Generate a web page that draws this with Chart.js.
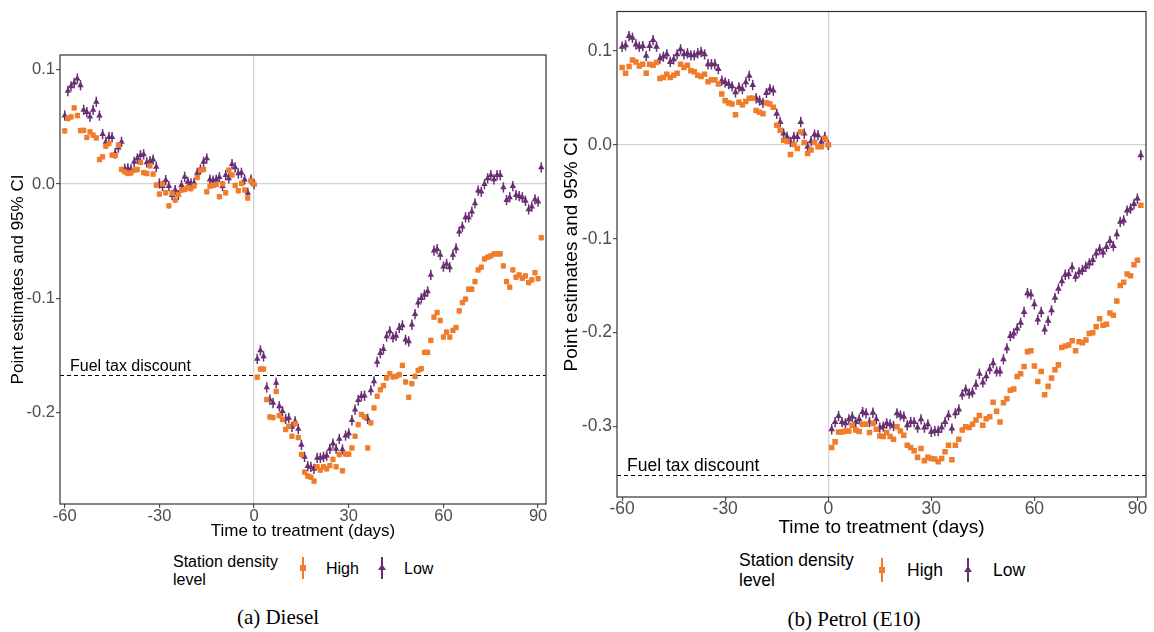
<!DOCTYPE html>
<html>
<head>
<meta charset="utf-8">
<script src="https://cdn.jsdelivr.net/npm/chart.js@4.4.0/dist/chart.umd.min.js"></script>
<style>
  body { margin: 0; background: #fff; width: 1154px; height: 632px; position: relative; overflow: hidden;
         font-family: "Liberation Sans", Arial, sans-serif; }
  .wrap { position: absolute; top: 0; }
  #wrapA { left: 0; }
  #wrapB { left: 560px; }
  .lg { position: absolute; color: #000; white-space: nowrap; }
  .key { position: absolute; width: 2px; }
  .key .sq { position: absolute; left: -2px; width: 6px; height: 6px; }
  .key .tri { position: absolute; left: -3px; width: 0; height: 0;
              border-left: 4px solid transparent; border-right: 4px solid transparent; }
  .caption { position: absolute; font-family: "Liberation Serif", "DejaVu Serif", serif; font-size: 21px;
             color: #000; transform: translateX(-50%); white-space: nowrap; }
</style>
</head>
<body>
<div class="wrap" id="wrapA"><canvas id="diesel" width="560" height="542"></canvas></div>
<div class="wrap" id="wrapB"><canvas id="petrol" width="594" height="539"></canvas></div>
<div id="legendA"></div>
<div id="legendB"></div>
<div class="caption" style="left:278px;top:605px">(a) Diesel</div>
<div class="caption" style="left:854px;top:607px">(b) Petrol (E10)</div>
<script>
// days relative to treatment, -60 .. 91 (day 0 is the reference, fixed at 0)
const days = [];
for (let d = -60; d <= 91; d++) days.push(d);

const seriesNames = ["High", "Low"];
const xTicks = [-60, -30, 0, 30, 60, 90];
const dieselYTicks = [0.1, 0.0, -0.1, -0.2];
const petrolYTicks = [0.1, 0.0, -0.1, -0.2, -0.3];
const dieselDiscount = -0.167;
const petrolDiscount = -0.352;

// Diesel, days -60..0
const dieselHighPre = [0.0466, 0.0574, 0.0588, 0.0667, 0.060, 0.0469, 0.047, 0.0408, 0.0457, 0.0428,
  0.0404, 0.0215, 0.0239, 0.0332, 0.0355, 0.0253, 0.025, 0.034, 0.0128, 0.0108,
  0.0093, 0.0099, 0.0122, 0.0128, 0.019, 0.010, 0.0093, 0.016, 0.0087, -0.0009,
  -0.0087, 0.0, -0.0076, -0.019, -0.008, -0.014, -0.009, -0.0052, -0.0047, -0.003,
  -0.004, -0.0017, 0.0058, 0.0122, 0.0128, -0.0067, -0.0017, -0.0012, -0.0003, -0.011,
  0.0, -0.0076, 0.0122, 0.008, -0.0012, -0.0058, 0.0006, -0.0052, -0.0122, 0.003, 0];
const dieselLowPre = [0.060, 0.0815, 0.0856, 0.0885, 0.0923, 0.0865, 0.065, 0.063, 0.059, 0.065,
  0.072, 0.060, 0.0437, 0.037, 0.041, 0.041, 0.027, 0.032, 0.037, 0.0134,
  0.0137, 0.0128, 0.0195, 0.0224, 0.0253, 0.026, 0.019, 0.020, 0.0215, 0.015,
  0.0006, -0.0017, 0.0035, -0.0017, -0.0096, -0.0052, -0.0096, -0.0009, 0.0064, 0.002,
  0.0006, 0.001, 0.0099, 0.0128, 0.0195, 0.0224, 0.004, 0.003, 0.004, 0.006,
  -0.0017, 0.0079, 0.005, 0.0175, 0.0146, 0.0093, 0.0099, 0.004, -0.0076, 0.004, 0];
// Diesel, days 1..91
const dieselHighPost = [-0.169, -0.1619, -0.1619, -0.1886, -0.2038, -0.2044, -0.1814, -0.2026, -0.2061, -0.2148,
  -0.212, -0.2207, -0.2096, -0.2218, -0.2367, -0.2521, -0.2556, -0.2565, -0.26, -0.2474,
  -0.2504, -0.2474, -0.2492, -0.2463, -0.241, -0.2474, -0.2367, -0.2509, -0.2364, -0.2364,
  -0.2309, -0.2207, -0.2105, -0.2017, -0.2038, -0.2309, -0.209, -0.1959, -0.1857,
  -0.18, -0.1764, -0.1697, -0.1659, -0.1688, -0.1683, -0.1668, -0.1587, -0.1732, -0.1866,
  -0.1747, -0.1683, -0.163, -0.1616, -0.1473, -0.1473, -0.1368, -0.1165, -0.1124, -0.1194,
  -0.1339, -0.1295, -0.1339, -0.1281, -0.1255, -0.1109, -0.1037, -0.1007, -0.092, -0.092,
  -0.0853, -0.0751, -0.0728, -0.0655, -0.064, -0.0629, -0.0611, -0.0611, -0.0611, -0.0716,
  -0.0853, -0.0902, -0.0751, -0.0815, -0.0795, -0.0824, -0.0803, -0.0862, -0.0838, -0.0775, -0.0827, -0.0469];
const dieselLowPost = [-0.153, -0.1456, -0.1508, -0.178, -0.1886, -0.1916, -0.174, -0.1945, -0.1988, -0.2055,
  -0.2047, -0.2125, -0.2076, -0.2143, -0.2282, -0.2387, -0.2469, -0.2475, -0.2492, -0.2396,
  -0.2396, -0.2387, -0.2376, -0.2317, -0.2271, -0.2317, -0.223, -0.2323, -0.2201, -0.2183,
  -0.2067, -0.1974, -0.1892, -0.1857, -0.1852, -0.2055, -0.1805, -0.1726, -0.1557,
  -0.148, -0.1444, -0.1333, -0.129, -0.1342, -0.1328, -0.126, -0.1237, -0.1362, -0.1377,
  -0.1231, -0.1138, -0.1037, -0.0998, -0.0969, -0.094, -0.0795, -0.0582, -0.057, -0.062,
  -0.0722, -0.0699, -0.0728, -0.062, -0.0562, -0.0416, -0.0373, -0.0291, -0.0291, -0.0242,
  -0.0169, -0.0058, -0.0067, 0.0, 0.005, 0.0079, 0.0041, 0.0079, 0.0079, -0.0029,
  -0.014, -0.0116, -0.0017, -0.0096, -0.0105, -0.0116, -0.0146, -0.0221, -0.0198, -0.0134, -0.0154, 0.0146];

// Petrol (E10), days -60..0
const petrolHighPre = [0.0823, 0.0763, 0.0834, 0.0904, 0.0883, 0.0841, 0.0858, 0.0763, 0.0858, 0.0848,
  0.0876, 0.0707, 0.0718, 0.0753, 0.0718, 0.0742, 0.0763, 0.0858, 0.0823, 0.0848,
  0.0788, 0.0778, 0.0742, 0.0728, 0.0753, 0.0672, 0.0693, 0.0693, 0.0647, 0.0542,
  0.0471, 0.0447, 0.0436, 0.032, 0.0454, 0.0426, 0.0461, 0.0496, 0.0496, 0.0366,
  0.0348, 0.0331, 0.0447, 0.0436, 0.0401, 0.0208, 0.0155, 0.005, 0.0039, -0.0102,
  0.0004, -0.0039, 0.0137, 0.0025, -0.0091, -0.0056, 0.0025, -0.0021, -0.0021, 0.0067, 0];
const petrolLowPre = [0.1045, 0.1059, 0.1158, 0.114, 0.1069, 0.1045, 0.1052, 0.0947, 0.1052, 0.1115,
  0.1045, 0.0918, 0.0939, 0.0964, 0.0883, 0.0911, 0.0964, 0.1017, 0.0964, 0.0975,
  0.0953, 0.0953, 0.0975, 0.0989, 0.0964, 0.0858, 0.0858, 0.0858, 0.0806, 0.0683,
  0.0665, 0.0647, 0.0623, 0.0559, 0.0612, 0.0594, 0.0665, 0.0735, 0.0637, 0.0496,
  0.0471, 0.0447, 0.0552, 0.0594, 0.0577, 0.0331, 0.0243, 0.012, 0.0084, 0.0032,
  0.0084, 0.0084, 0.0243, 0.012, -0.0021, 0.0039, 0.0109, 0.0102, 0.0032, 0.0084, 0];
// Petrol (E10), days 1..91
const petrolHighPost = [-0.3222, -0.3163, -0.3057, -0.3057, -0.305, -0.3047, -0.2987, -0.3036, -0.3053, -0.2976,
  -0.2976, -0.3064, -0.2966, -0.3029, -0.31, -0.3106, -0.3064, -0.3106, -0.3135, -0.3001,
  -0.3047, -0.3092, -0.3198, -0.3222, -0.3258, -0.3328, -0.3233, -0.3363, -0.3328, -0.3339,
  -0.3346, -0.3374, -0.3339, -0.3268, -0.3198, -0.3353, -0.3198, -0.3135,
  -0.3036, -0.3001, -0.3011, -0.2976, -0.2931, -0.2881, -0.2987, -0.2916, -0.2895, -0.2741,
  -0.2836, -0.2952, -0.2747, -0.2705, -0.2614, -0.26, -0.2466, -0.2438, -0.2361, -0.2202,
  -0.2192, -0.2354, -0.2519, -0.2413, -0.266, -0.2572, -0.2484, -0.2396, -0.2343, -0.2157,
  -0.2142, -0.2132, -0.2087, -0.2192, -0.2097, -0.2107, -0.2079, -0.2009, -0.2002, -0.1938,
  -0.1851, -0.1921, -0.191, -0.1791, -0.1815, -0.1664, -0.1499, -0.1464, -0.1376, -0.1393, -0.1277, -0.1228, -0.0644];
const petrolLowPost = [-0.3029, -0.2952, -0.2888, -0.2952, -0.2966, -0.2923, -0.2895, -0.2952, -0.2923, -0.2846,
  -0.286, -0.2952, -0.2853, -0.2923, -0.3011, -0.3001, -0.2966, -0.2976, -0.2994, -0.286,
  -0.2881, -0.2895, -0.2987, -0.2952, -0.2952, -0.3011, -0.2923, -0.3011, -0.2976, -0.3057,
  -0.3047, -0.3047, -0.3011, -0.2952, -0.2881, -0.3022, -0.286, -0.2818,
  -0.266, -0.2607, -0.2649, -0.2635, -0.2554, -0.2438, -0.253, -0.2466, -0.2389, -0.2325,
  -0.2413, -0.2413, -0.2283, -0.2167, -0.2037, -0.2009, -0.1956, -0.1896, -0.178, -0.158,
  -0.1594, -0.1699, -0.1861, -0.178, -0.1967, -0.1875, -0.1763, -0.1629, -0.1534, -0.1453,
  -0.1383, -0.1376, -0.1305, -0.1404, -0.1358, -0.1333, -0.1298, -0.1263, -0.1228, -0.1158,
  -0.1111, -0.1147, -0.1087, -0.1024, -0.1077, -0.0953, -0.082, -0.0805, -0.07, -0.0679, -0.063, -0.0573, -0.011];

// half width of the 95% CI
const dieselCI = [0.0025, 0.0045];
const petrolCI = [0.0025, 0.0055];

const colors = ["#F07D2C", "#682F72"];
const shapes = ["rect", "triangle"];

Chart.defaults.font.family = "'Liberation Sans', Arial, sans-serif";
Chart.defaults.animation = false;

function toPoints(pre, post) {
  return pre.concat(post).map((v, i) => ({ x: days[i], y: v }));
}

const panelDecor = {
  id: 'panelDecor',
  beforeDatasetsDraw(chart, args, o) {
    const { ctx, chartArea: a, scales: { y } } = chart;
    ctx.save();
    // fuel tax discount reference
    const yy = Math.round(y.getPixelForValue(o.discount)) + 0.5;
    ctx.strokeStyle = '#000';
    ctx.lineWidth = 1;
    ctx.setLineDash([4, 3]);
    ctx.beginPath(); ctx.moveTo(a.left, yy); ctx.lineTo(a.right, yy); ctx.stroke();
    ctx.setLineDash([]);
    ctx.fillStyle = '#000';
    ctx.font = o.labelFont;
    ctx.textBaseline = 'alphabetic';
    ctx.fillText('Fuel tax discount', a.left + 10, yy - 5);
    // CI bars
    chart.data.datasets.forEach((ds, i) => {
      const meta = chart.getDatasetMeta(i);
      ctx.strokeStyle = ds.backgroundColor;
      ctx.lineWidth = o.barWidth;
      meta.data.forEach((pt, j) => {
        const v = ds.data[j].y;
        ctx.beginPath();
        ctx.moveTo(pt.x, y.getPixelForValue(v - ds.ci));
        ctx.lineTo(pt.x, y.getPixelForValue(v + ds.ci));
        ctx.stroke();
      });
    });
    ctx.restore();
  },
  afterDraw(chart) {
    const { ctx, chartArea: a } = chart;
    ctx.save();
    ctx.strokeStyle = '#333';
    ctx.lineWidth = 1.2;
    ctx.strokeRect(a.left, a.top, a.right - a.left, a.bottom - a.top);
    ctx.restore();
  }
};

function makeChart(id, high, low, ci, yTicks, cfg) {
  const zeroGrid = c => (c.tick && c.tick.value === 0 ? '#d4d4d4' : 'rgba(0,0,0,0)');
  return new Chart(document.getElementById(id), {
    type: 'scatter',
    data: {
      datasets: [high, low].map((pts, i) => ({
        label: seriesNames[i],
        data: pts,
        ci: ci[i],
        backgroundColor: colors[i],
        borderColor: colors[i],
        pointStyle: shapes[i],
        pointRadius: cfg.radius,
        pointBorderWidth: 0,
        pointHoverRadius: cfg.radius
      }))
    },
    options: {
      responsive: false,
      layout: { padding: cfg.padding },
      plugins: {
        legend: { display: false },
        tooltip: { enabled: false },
        panelDecor: { discount: cfg.discount, labelFont: cfg.labelFont, barWidth: 1.5 }
      },
      scales: {
        x: {
          type: 'linear', min: -61.5, max: 92.5,
          afterBuildTicks: s => { s.ticks = xTicks.map(v => ({ value: v })); },
          afterFit: s => { s.height = cfg.xHeight; },
          ticks: { color: '#4d4d4d', font: { size: cfg.tickSize }, padding: cfg.xTickPad, maxRotation: 0,
                   callback: v => String(v) },
          grid: { color: zeroGrid, lineWidth: 1.3, tickColor: '#333', tickLength: 4, tickWidth: 1 },
          border: { display: false },
          title: { display: true, text: 'Time to treatment (days)', color: '#000',
                   font: { size: cfg.titleSize }, padding: { top: 0, bottom: 0 } }
        },
        y: {
          type: 'linear', min: cfg.yMin, max: cfg.yMax,
          afterBuildTicks: s => { s.ticks = yTicks.map(v => ({ value: v })); },
          afterFit: s => { s.width = cfg.yWidth; },
          ticks: { color: '#4d4d4d', font: { size: cfg.tickSize }, padding: 1,
                   callback: v => v.toFixed(1) },
          grid: { color: zeroGrid, lineWidth: 1.3, tickColor: '#333', tickLength: 4, tickWidth: 1 },
          border: { display: false },
          title: { display: true, text: 'Point estimates and 95% CI', color: '#000',
                   font: { size: cfg.titleSize }, padding: { top: cfg.yTitlePad, bottom: 0 } }
        }
      }
    },
    plugins: [panelDecor]
  });
}

const dieselChart = makeChart('diesel',
  toPoints(dieselHighPre, dieselHighPost), toPoints(dieselLowPre, dieselLowPost), dieselCI, dieselYTicks,
  { padding: { top: 55, right: 14, left: 0, bottom: 0 }, yMin: -0.28, yMax: 0.113, discount: dieselDiscount,
    xHeight: 38, yWidth: 60, tickSize: 16.5, titleSize: 17, xTickPad: -1, yTitlePad: 8, radius: 3.7,
    labelFont: "16px 'Liberation Sans', Arial, sans-serif" });

const petrolChart = makeChart('petrol',
  toPoints(petrolHighPre, petrolHighPost), toPoints(petrolLowPre, petrolLowPost), petrolCI, petrolYTicks,
  { padding: { top: 8, right: 8, left: 0, bottom: 0 }, yMin: -0.375, yMax: 0.142, discount: petrolDiscount,
    xHeight: 42, yWidth: 57, tickSize: 17.5, titleSize: 19, xTickPad: -2, yTitlePad: 0, radius: 3.9,
    labelFont: "17.5px 'Liberation Sans', Arial, sans-serif" });

// ggplot-style legend under each panel, built from the chart datasets
function buildLegend(el, chart, L) {
  let html = `<div class="lg" style="left:${L.left}px;top:${L.top}px;font-size:${L.size}px;line-height:${L.lh}px">Station density<br>level</div>`;
  chart.data.datasets.forEach((ds, i) => {
    const kx = L.keys[i], tx = L.texts[i];
    const mark = ds.pointStyle === 'rect'
      ? `<div class="sq" style="top:${L.keyH / 2 - 3}px;background:${ds.backgroundColor}"></div>`
      : `<div class="tri" style="top:${L.keyH / 2 - 4}px;border-bottom:6px solid ${ds.backgroundColor}"></div>`;
    html += `<div class="key" style="left:${kx - 1}px;top:${L.keyTop}px;height:${L.keyH}px;background:${ds.backgroundColor}">${mark}</div>`;
    html += `<div class="lg" style="left:${tx}px;top:${L.textTop}px;font-size:${L.size}px;line-height:${L.lh}px">${ds.label}</div>`;
  });
  el.innerHTML = html;
}

buildLegend(document.getElementById('legendA'), dieselChart,
  { left: 173, top: 553, size: 16, lh: 18, keys: [303, 382], texts: [326, 404], keyTop: 557, keyH: 22, textTop: 560 });
buildLegend(document.getElementById('legendB'), petrolChart,
  { left: 739, top: 551, size: 17.5, lh: 19.5, keys: [882, 968], texts: [907, 993], keyTop: 558, keyH: 24, textTop: 561 });
</script>
</body>
</html>
